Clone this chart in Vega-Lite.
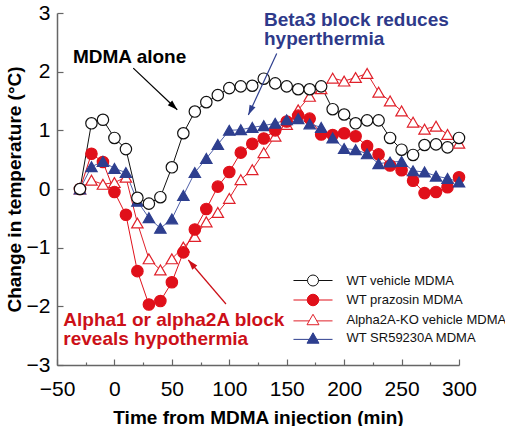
{
  "$schema": "https://vega.github.io/schema/vega-lite/v6.json",
  "width": 402,
  "height": 352,
  "autosize": {"type": "none"},
  "padding": {"left": 57, "top": 13, "right": 46, "bottom": 61},
  "background": "white",
  "config": {"view": {"stroke": null}, "font": "Liberation Sans"},
  "datasets": {
    "temps": [
      {"t": -30, "WT vehicle MDMA": 0, "WT prazosin MDMA": 0, "Alpha2A-KO vehicle MDMA": 0, "WT SR59230A MDMA": 0},
      {"t": -20, "WT vehicle MDMA": 1.12, "WT prazosin MDMA": 0.6, "Alpha2A-KO vehicle MDMA": 0.15, "WT SR59230A MDMA": 0.38},
      {"t": -10, "WT vehicle MDMA": 1.18, "WT prazosin MDMA": 0.46, "Alpha2A-KO vehicle MDMA": 0.08, "WT SR59230A MDMA": 0.47},
      {"t": 0, "WT vehicle MDMA": 0.87, "WT prazosin MDMA": -0.05, "Alpha2A-KO vehicle MDMA": 0.11, "WT SR59230A MDMA": 0.35},
      {"t": 10, "WT vehicle MDMA": 0.68, "WT prazosin MDMA": -0.44, "Alpha2A-KO vehicle MDMA": 0.2, "WT SR59230A MDMA": 0.28},
      {"t": 20, "WT vehicle MDMA": -0.15, "WT prazosin MDMA": -1.4, "Alpha2A-KO vehicle MDMA": -0.58, "WT SR59230A MDMA": -0.21},
      {"t": 30, "WT vehicle MDMA": -0.25, "WT prazosin MDMA": -1.97, "Alpha2A-KO vehicle MDMA": -1.19, "WT SR59230A MDMA": -0.49},
      {"t": 40, "WT vehicle MDMA": -0.14, "WT prazosin MDMA": -1.91, "Alpha2A-KO vehicle MDMA": -1.38, "WT SR59230A MDMA": -0.67},
      {"t": 50, "WT vehicle MDMA": 0.37, "WT prazosin MDMA": -1.59, "Alpha2A-KO vehicle MDMA": -1.19, "WT SR59230A MDMA": -0.51},
      {"t": 60, "WT vehicle MDMA": 0.95, "WT prazosin MDMA": -1.08, "Alpha2A-KO vehicle MDMA": -0.99, "WT SR59230A MDMA": -0.11},
      {"t": 70, "WT vehicle MDMA": 1.32, "WT prazosin MDMA": -0.69, "Alpha2A-KO vehicle MDMA": -0.81, "WT SR59230A MDMA": 0.28},
      {"t": 80, "WT vehicle MDMA": 1.48, "WT prazosin MDMA": -0.34, "Alpha2A-KO vehicle MDMA": -0.56, "WT SR59230A MDMA": 0.52},
      {"t": 90, "WT vehicle MDMA": 1.6, "WT prazosin MDMA": 0.04, "Alpha2A-KO vehicle MDMA": -0.4, "WT SR59230A MDMA": 0.76},
      {"t": 100, "WT vehicle MDMA": 1.72, "WT prazosin MDMA": 0.29, "Alpha2A-KO vehicle MDMA": -0.16, "WT SR59230A MDMA": 1.0},
      {"t": 110, "WT vehicle MDMA": 1.75, "WT prazosin MDMA": 0.62, "Alpha2A-KO vehicle MDMA": 0.16, "WT SR59230A MDMA": 1.01},
      {"t": 120, "WT vehicle MDMA": 1.76, "WT prazosin MDMA": 0.77, "Alpha2A-KO vehicle MDMA": 0.33, "WT SR59230A MDMA": 1.05},
      {"t": 130, "WT vehicle MDMA": 1.88, "WT prazosin MDMA": 0.86, "Alpha2A-KO vehicle MDMA": 0.62, "WT SR59230A MDMA": 1.08},
      {"t": 140, "WT vehicle MDMA": 1.8, "WT prazosin MDMA": 1.0, "Alpha2A-KO vehicle MDMA": 0.9, "WT SR59230A MDMA": 1.12},
      {"t": 150, "WT vehicle MDMA": 1.75, "WT prazosin MDMA": 1.15, "Alpha2A-KO vehicle MDMA": 1.1, "WT SR59230A MDMA": 1.18},
      {"t": 160, "WT vehicle MDMA": 1.7, "WT prazosin MDMA": 1.25, "Alpha2A-KO vehicle MDMA": 1.35, "WT SR59230A MDMA": 1.2},
      {"t": 170, "WT vehicle MDMA": 1.7, "WT prazosin MDMA": 1.2, "Alpha2A-KO vehicle MDMA": 1.58, "WT SR59230A MDMA": 1.11},
      {"t": 180, "WT vehicle MDMA": 1.75, "WT prazosin MDMA": 0.93, "Alpha2A-KO vehicle MDMA": 1.71, "WT SR59230A MDMA": 1.05},
      {"t": 190, "WT vehicle MDMA": 1.36, "WT prazosin MDMA": 0.92, "Alpha2A-KO vehicle MDMA": 1.89, "WT SR59230A MDMA": 0.87},
      {"t": 200, "WT vehicle MDMA": 1.27, "WT prazosin MDMA": 0.95, "Alpha2A-KO vehicle MDMA": 1.84, "WT SR59230A MDMA": 0.69},
      {"t": 210, "WT vehicle MDMA": 1.12, "WT prazosin MDMA": 0.9, "Alpha2A-KO vehicle MDMA": 1.9, "WT SR59230A MDMA": 0.67},
      {"t": 220, "WT vehicle MDMA": 1.17, "WT prazosin MDMA": 0.73, "Alpha2A-KO vehicle MDMA": 1.97, "WT SR59230A MDMA": 0.6},
      {"t": 230, "WT vehicle MDMA": 1.17, "WT prazosin MDMA": 0.59, "Alpha2A-KO vehicle MDMA": 1.65, "WT SR59230A MDMA": 0.43},
      {"t": 240, "WT vehicle MDMA": 0.87, "WT prazosin MDMA": 0.4, "Alpha2A-KO vehicle MDMA": 1.5, "WT SR59230A MDMA": 0.46},
      {"t": 250, "WT vehicle MDMA": 0.67, "WT prazosin MDMA": 0.32, "Alpha2A-KO vehicle MDMA": 1.33, "WT SR59230A MDMA": 0.47},
      {"t": 260, "WT vehicle MDMA": 0.58, "WT prazosin MDMA": 0.14, "Alpha2A-KO vehicle MDMA": 1.14, "WT SR59230A MDMA": 0.31},
      {"t": 270, "WT vehicle MDMA": 0.75, "WT prazosin MDMA": -0.07, "Alpha2A-KO vehicle MDMA": 1.02, "WT SR59230A MDMA": 0.29},
      {"t": 280, "WT vehicle MDMA": 0.76, "WT prazosin MDMA": -0.05, "Alpha2A-KO vehicle MDMA": 1.07, "WT SR59230A MDMA": 0.22},
      {"t": 290, "WT vehicle MDMA": 0.71, "WT prazosin MDMA": 0.03, "Alpha2A-KO vehicle MDMA": 0.93, "WT SR59230A MDMA": 0.18},
      {"t": 300, "WT vehicle MDMA": 0.87, "WT prazosin MDMA": 0.2, "Alpha2A-KO vehicle MDMA": 0.78, "WT SR59230A MDMA": 0.12}
    ],
    "arrows": [
      {"name": "mdma", "x": 16.4, "y": 2.06, "x2": 54.7, "y2": 1.35},
      {"name": "beta", "x": 141.3, "y": 2.31, "x2": 116.6, "y2": 1.26},
      {"name": "alpha", "x": 97.1, "y": -1.96, "x2": 64.3, "y2": -1.21}
    ],
    "notes": [
      {"name": "mdma", "x": -36.1, "y": 2.15, "label": "MDMA alone"},
      {"name": "beta", "x": 130.2, "y": 2.78, "label": "Beta3 block reduces"},
      {"name": "beta", "x": 130.2, "y": 2.45, "label": "hyperthermia"},
      {"name": "alpha", "x": -44.5, "y": -2.33, "label": "Alpha1 or alpha2A block"},
      {"name": "alpha", "x": -44.5, "y": -2.66, "label": "reveals hypothermia"}
    ]
  },
  "encoding": {
    "x": {
      "type": "quantitative",
      "scale": {"domain": [-50, 300], "nice": false, "zero": false},
      "axis": {
        "values": [-50, -25, 0, 25, 50, 75, 100, 125, 150, 175, 200, 225, 250, 275, 300],
        "format": "d",
        "labelExpr": "datum.value % 50 === 0 ? datum.label : ''",
        "tickSize": {"condition": {"test": "datum.value % 50 === 0", "value": -6}, "value": -3},
        "labelPadding": 19,
        "labelFlush": false,
        "labelOverlap": false,
        "grid": false,
        "domainColor": "#666666",
        "domainWidth": 1.5,
        "tickColor": "#666666",
        "tickWidth": 1.2,
        "labelFont": "Liberation Sans Narrow, Liberation Sans",
        "labelFontSize": 21,
        "labelColor": "#000000",
        "title": "Time from MDMA injection (min)",
        "titleFont": "Liberation Sans",
        "titleFontSize": 19,
        "titleFontWeight": "bold",
        "titleColor": "#000000",
        "titlePadding": 6
      }
    },
    "y": {
      "type": "quantitative",
      "scale": {"domain": [-3, 3], "nice": false, "zero": false},
      "axis": {
        "values": [-3, -2.5, -2, -1.5, -1, -0.5, 0, 0.5, 1, 1.5, 2, 2.5, 3],
        "format": "d",
        "labelExpr": "datum.value % 1 === 0 ? datum.label : ''",
        "tickSize": {"condition": {"test": "datum.value % 1 === 0", "value": -6}, "value": -3},
        "labelPadding": 13,
        "labelFlush": false,
        "labelOverlap": false,
        "grid": false,
        "domainColor": "#666666",
        "domainWidth": 1.5,
        "tickColor": "#666666",
        "tickWidth": 1.2,
        "labelFont": "Liberation Sans Narrow, Liberation Sans",
        "labelFontSize": 21,
        "labelColor": "#000000",
        "title": "Change in temperature (°C)",
        "titleFont": "Liberation Sans",
        "titleFontSize": 19,
        "titleFontWeight": "bold",
        "titleColor": "#000000",
        "titlePadding": 2
      }
    }
  },
  "layer": [
    {
      "data": {"name": "temps"},
      "transform": [{"fold": ["Alpha2A-KO vehicle MDMA", "WT prazosin MDMA", "WT SR59230A MDMA", "WT vehicle MDMA"], "as": ["series", "v"]}],
      "mark": {"type": "line", "strokeWidth": 1},
      "encoding": {
        "x": {"field": "t", "type": "quantitative"},
        "y": {"field": "v", "type": "quantitative"},
        "stroke": {
          "field": "series", "type": "nominal", "legend": null,
          "scale": {"domain": ["Alpha2A-KO vehicle MDMA", "WT prazosin MDMA", "WT SR59230A MDMA", "WT vehicle MDMA"], "range": ["#E0202A", "#E0101A", "#4F5FA8", "#111111"]}
        }
      }
    },
    {
      "data": {"name": "temps"},
      "transform": [{"fold": ["Alpha2A-KO vehicle MDMA", "WT prazosin MDMA", "WT SR59230A MDMA", "WT vehicle MDMA"], "as": ["series", "v"]}],
      "mark": {"type": "point", "filled": true, "opacity": 1, "strokeWidth": 1.2, "size": 130},
      "encoding": {
        "x": {"field": "t", "type": "quantitative"},
        "y": {"field": "v", "type": "quantitative"},
        "shape": {
          "field": "series", "type": "nominal", "legend": null,
          "scale": {"domain": ["Alpha2A-KO vehicle MDMA", "WT prazosin MDMA", "WT SR59230A MDMA", "WT vehicle MDMA"], "range": ["triangle-up", "circle", "triangle-up", "circle"]}
        },
        "fill": {
          "field": "series", "type": "nominal", "legend": null,
          "scale": {"domain": ["Alpha2A-KO vehicle MDMA", "WT prazosin MDMA", "WT SR59230A MDMA", "WT vehicle MDMA"], "range": ["#FFFFFF", "#E0101A", "#2E3F8F", "#FFFFFF"]}
        },
        "stroke": {
          "field": "series", "type": "nominal", "legend": null,
          "scale": {"domain": ["Alpha2A-KO vehicle MDMA", "WT prazosin MDMA", "WT SR59230A MDMA", "WT vehicle MDMA"], "range": ["#E0202A", "#E0101A", "#2E3F8F", "#111111"]}
        }
      }
    },
    {
      "data": {"name": "temps"},
      "transform": [{"fold": ["WT vehicle MDMA"], "as": ["series", "v"]}, {"filter": "false"}],
      "mark": {"type": "point", "filled": true, "opacity": 1, "strokeWidth": 1},
      "encoding": {
        "shape": {
          "field": "series", "type": "nominal",
          "scale": {"domain": ["WT vehicle MDMA", "WT prazosin MDMA", "Alpha2A-KO vehicle MDMA", "WT SR59230A MDMA"],
            "range": [
              "M-3.55,0H-1M1,0H3.55M-1,0A1,1 0 1,1 1,0A1,1 0 1,1 -1,0Z",
              "M-3.55,0H-1M1,0H3.55M-1.05,0A1.05,1.05 0 1,1 1.05,0A1.05,1.05 0 1,1 -1.05,0Z",
              "M-3.55,0.25H-0.7M0.7,0.25H3.55M0,-0.95L1.09,0.95L-1.09,0.95Z",
              "M-3.55,0.25H-0.7M0.7,0.25H3.55M0,-0.95L1.09,0.95L-1.09,0.95Z"
            ]},
          "legend": {"orient": "none", "legendX": 249.5, "legendY": 261, "title": null, "symbolSize": 121, "symbolStrokeWidth": 1, "labelFont": "Liberation Sans", "labelFontSize": 13, "labelColor": "#111111", "labelOffset": 27, "rowPadding": 3.5, "padding": 0, "symbolOpacity": 1}
        },
        "fill": {
          "field": "series", "type": "nominal",
          "scale": {"domain": ["WT vehicle MDMA", "WT prazosin MDMA", "Alpha2A-KO vehicle MDMA", "WT SR59230A MDMA"], "range": ["#FFFFFF", "#E0101A", "#FFFFFF", "#2E3F8F"]},
          "legend": {"orient": "none", "legendX": 249.5, "legendY": 261, "title": null, "symbolSize": 121, "symbolStrokeWidth": 1, "labelFont": "Liberation Sans", "labelFontSize": 13, "labelColor": "#111111", "labelOffset": 27, "rowPadding": 3.5, "padding": 0, "symbolOpacity": 1}
        },
        "stroke": {
          "field": "series", "type": "nominal",
          "scale": {"domain": ["WT vehicle MDMA", "WT prazosin MDMA", "Alpha2A-KO vehicle MDMA", "WT SR59230A MDMA"], "range": ["#111111", "#E0101A", "#E0202A", "#2E3F8F"]},
          "legend": {"orient": "none", "legendX": 249.5, "legendY": 261, "title": null, "symbolSize": 121, "symbolStrokeWidth": 1, "labelFont": "Liberation Sans", "labelFontSize": 13, "labelColor": "#111111", "labelOffset": 27, "rowPadding": 3.5, "padding": 0, "symbolOpacity": 1}
        }
      }
    },
    {
      "data": {"name": "arrows"},
      "transform": [{"filter": "datum.name === 'mdma'"}],
      "mark": {"type": "rule", "color": "#000000", "strokeWidth": 1.2},
      "encoding": {"x": {"field": "x", "type": "quantitative"}, "y": {"field": "y", "type": "quantitative"}, "x2": {"field": "x2"}, "y2": {"field": "y2"}}
    },
    {
      "data": {"name": "arrows"},
      "transform": [{"filter": "datum.name === 'beta'"}],
      "mark": {"type": "rule", "color": "#2E3F8F", "strokeWidth": 1.2},
      "encoding": {"x": {"field": "x", "type": "quantitative"}, "y": {"field": "y", "type": "quantitative"}, "x2": {"field": "x2"}, "y2": {"field": "y2"}}
    },
    {
      "data": {"name": "arrows"},
      "transform": [{"filter": "datum.name === 'alpha'"}],
      "mark": {"type": "rule", "color": "#CC1018", "strokeWidth": 1.2},
      "encoding": {"x": {"field": "x", "type": "quantitative"}, "y": {"field": "y", "type": "quantitative"}, "x2": {"field": "x2"}, "y2": {"field": "y2"}}
    },
    {
      "data": {"name": "arrows"},
      "transform": [{"filter": "datum.name === 'mdma'"}],
      "mark": {"type": "point", "filled": true, "opacity": 1, "color": "#000000", "strokeWidth": 0, "size": 100, "shape": "M0,0L0.65,2L-0.65,2Z", "angle": 133.5},
      "encoding": {"x": {"field": "x2", "type": "quantitative"}, "y": {"field": "y2", "type": "quantitative"}}
    },
    {
      "data": {"name": "arrows"},
      "transform": [{"filter": "datum.name === 'beta'"}],
      "mark": {"type": "point", "filled": true, "opacity": 1, "color": "#2E3F8F", "strokeWidth": 0, "size": 100, "shape": "M0,0L0.65,2L-0.65,2Z", "angle": 204.7},
      "encoding": {"x": {"field": "x2", "type": "quantitative"}, "y": {"field": "y2", "type": "quantitative"}}
    },
    {
      "data": {"name": "arrows"},
      "transform": [{"filter": "datum.name === 'alpha'"}],
      "mark": {"type": "point", "filled": true, "opacity": 1, "color": "#CC1018", "strokeWidth": 0, "size": 100, "shape": "M0,0L0.65,2L-0.65,2Z", "angle": 319.4},
      "encoding": {"x": {"field": "x2", "type": "quantitative"}, "y": {"field": "y2", "type": "quantitative"}}
    },
    {
      "data": {"name": "notes"},
      "transform": [{"filter": "datum.name === 'mdma'"}],
      "mark": {"type": "text", "align": "left", "baseline": "alphabetic", "font": "Liberation Sans", "fontSize": 19, "fontWeight": "bold", "color": "#000000"},
      "encoding": {"x": {"field": "x", "type": "quantitative"}, "y": {"field": "y", "type": "quantitative"}, "text": {"field": "label"}}
    },
    {
      "data": {"name": "notes"},
      "transform": [{"filter": "datum.name === 'beta'"}],
      "mark": {"type": "text", "align": "left", "baseline": "alphabetic", "font": "Liberation Sans", "fontSize": 19, "fontWeight": "bold", "color": "#2E3A8A"},
      "encoding": {"x": {"field": "x", "type": "quantitative"}, "y": {"field": "y", "type": "quantitative"}, "text": {"field": "label"}}
    },
    {
      "data": {"name": "notes"},
      "transform": [{"filter": "datum.name === 'alpha'"}],
      "mark": {"type": "text", "align": "left", "baseline": "alphabetic", "font": "Liberation Sans", "fontSize": 19, "fontWeight": "bold", "color": "#CC1018"},
      "encoding": {"x": {"field": "x", "type": "quantitative"}, "y": {"field": "y", "type": "quantitative"}, "text": {"field": "label"}}
    }
  ],
  "resolve": {"scale": {"shape": "independent", "fill": "independent", "stroke": "independent"}}
}
